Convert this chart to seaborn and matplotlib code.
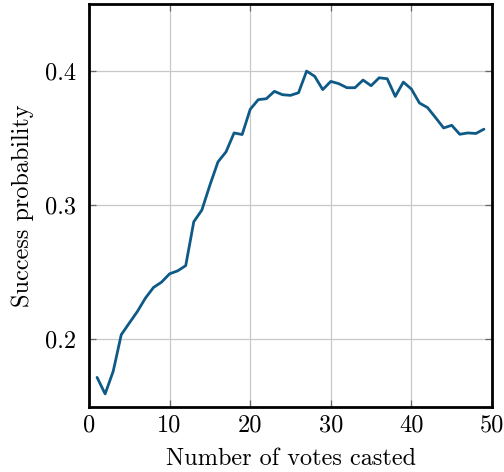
import matplotlib
matplotlib.use("Agg")
import matplotlib.pyplot as plt
import seaborn as sns
import pandas as pd

votes = list(range(1, 50))
success = [0.1717, 0.1594, 0.1762, 0.2035, 0.2122, 0.2208, 0.2308, 0.2387, 0.2427, 0.2489,
           0.2511, 0.2550, 0.2877, 0.2964, 0.3150, 0.3323, 0.3398, 0.3539, 0.3527, 0.3715,
           0.3787, 0.3794, 0.3849, 0.3824, 0.3819, 0.3839, 0.4000, 0.3961, 0.3862, 0.3923,
           0.3906, 0.3876, 0.3876, 0.3933, 0.3891, 0.3950, 0.3943, 0.3811, 0.3918, 0.3866,
           0.3762, 0.3728, 0.3653, 0.3576, 0.3596, 0.3529, 0.3539, 0.3535, 0.3567]
xticks = [0, 10, 20, 30, 40, 50]
yticks = [0.2, 0.3, 0.4]

df = pd.DataFrame({"votes": votes, "success": success})

sns.set_theme(style="white")
plt.rcParams["font.family"] = ["cmr10", "DejaVu Serif"]
plt.rcParams["mathtext.fontset"] = "cm"
plt.rcParams["axes.formatter.use_mathtext"] = True

fig = plt.figure(figsize=(5.04, 4.72), dpi=100)
ax = fig.add_axes([89/504, 1-406.5/472, (492-89)/504, (406.5-4)/472])

sns.lineplot(data=df, x="votes", y="success", ax=ax, color="#0e5a87", linewidth=2.0)

ax.set_xlim(0, 50)
ax.set_ylim(0.15, 0.45)
ax.set_xticks(xticks)
ax.set_yticks(yticks)
ax.set_xticklabels([str(t) for t in xticks])
ax.set_yticklabels([f"{t:.1f}" for t in yticks])
ax.grid(True, color="#c8c8c8", linewidth=0.9)
ax.set_axisbelow(True)
for s in ax.spines.values():
    s.set_visible(True)
    s.set_color("black")
    s.set_linewidth(2.0)
ax.tick_params(direction="in", length=5, width=0.9, color="#666666",
               top=True, right=True, bottom=True, left=True,
               labelsize=17.5, labelcolor="black", pad=6)
ax.tick_params(axis="y", pad=9)
ax.set_xlabel("Number of votes casted", fontsize=17.5, labelpad=8, color="black")
ax.set_ylabel("Success probability", fontsize=17.5, labelpad=8, color="black")

fig.savefig("out.png", dpi=100)
